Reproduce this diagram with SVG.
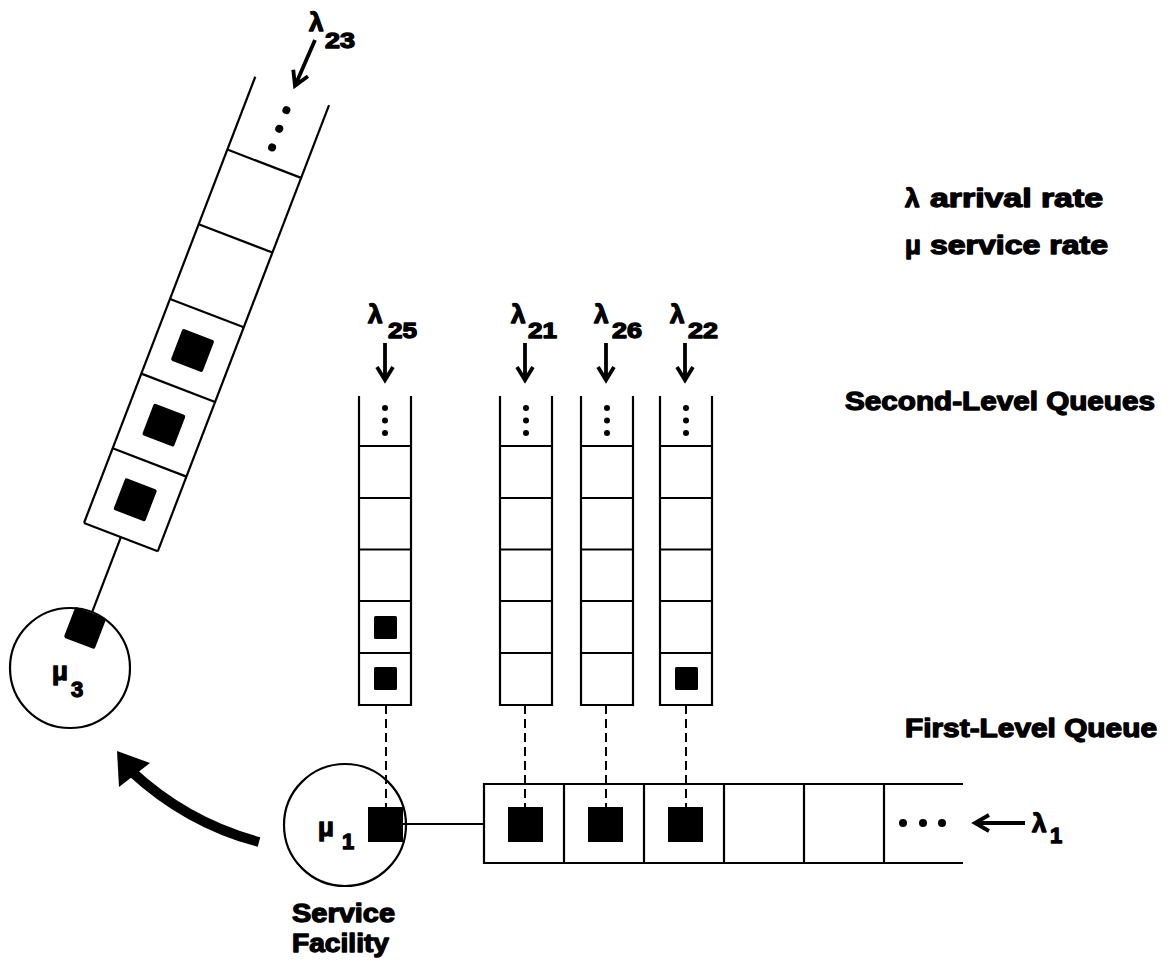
<svg xmlns="http://www.w3.org/2000/svg" xmlns:xlink="http://www.w3.org/1999/xlink" width="1169" height="965" viewBox="0 0 1169 965">
  <style>
    .ln { fill: none; stroke: #000; stroke-width: 2.2; }
    .cell { fill: #fff; stroke: #000; stroke-width: 2.2; }
    .job { fill: #000; stroke: none; }
    .dot { fill: #000; }
    .dash { fill: none; stroke: #000; stroke-width: 2; stroke-dasharray: 9 5; }
    .arr { fill: none; stroke: #000; stroke-width: 3.8; stroke-linejoin: miter; }
    .t { font-family: "Liberation Sans", Arial, sans-serif; font-weight: bold; fill: #000; stroke: #000; stroke-width: 1.3; stroke-linejoin: round; }
    .big { font-size: 26px; }
    .sub { font-size: 22px; }
  </style>
  <defs>
    <g id="arrow-down">
      <path class="arr" d="M0,0 V36 M-8,24 L0,37 L8,24"/>
    </g>
    <g id="arrow-long">
      <path class="arr" d="M0,0 V49 M-8,36 L0,50 L8,36"/>
    </g>
  </defs>

  <rect width="1169" height="965" fill="#fff"/>

  <!-- connectors -->
  <g id="connectors">
    <line class="dash" x1="386" y1="705" x2="386" y2="807"/>
    <line class="dash" x1="525" y1="705" x2="525" y2="807"/>
    <line class="dash" x1="606" y1="705" x2="606" y2="807"/>
    <line class="dash" x1="686" y1="705" x2="686" y2="807"/>
    <line class="ln" x1="403" y1="824" x2="484" y2="824"/>
    <!-- transfer from service facility 1 to facility 3 -->
    <path d="M259,842 Q187,823 131,771" fill="none" stroke="#000" stroke-width="10"/>
    <polygon points="117,751 150,763 119,787" fill="#000"/>
  </g>

  <!-- tilted second-level queue feeding facility 3 -->
  <g id="queue-23" transform="translate(84,523) rotate(21)">
    <line class="ln" x1="0" y1="0" x2="0" y2="-478"/>
    <line class="ln" x1="79" y1="0" x2="79" y2="-478"/>
    <line class="ln" x1="0" y1="0" x2="79" y2="0"/>
    <line class="ln" x1="0" y1="-80" x2="79" y2="-80"/>
    <line class="ln" x1="0" y1="-160" x2="79" y2="-160"/>
    <line class="ln" x1="0" y1="-240" x2="79" y2="-240"/>
    <line class="ln" x1="0" y1="-320" x2="79" y2="-320"/>
    <line class="ln" x1="0" y1="-400" x2="79" y2="-400"/>
    <rect class="job" x="22.5" y="-57" width="34" height="34" rx="2"/>
    <rect class="job" x="22.5" y="-137" width="34" height="34" rx="2"/>
    <rect class="job" x="22.5" y="-217" width="34" height="34" rx="2"/>
    <circle class="dot" cx="41" cy="-418" r="4"/>
    <circle class="dot" cx="41" cy="-438" r="4"/>
    <circle class="dot" cx="41" cy="-458" r="4"/>
    <line class="ln" x1="39.5" y1="0" x2="39.5" y2="80"/>
  </g>

  <g id="lambda-23">
    <use xlink:href="#arrow-long" transform="translate(315,40) rotate(23.6)"/>
    <text class="t big" x="309" y="31">λ</text>
    <text class="t sub" x="325" y="48" textLength="30" lengthAdjust="spacingAndGlyphs">23</text>
  </g>

  <!-- service facility 3 -->
  <g id="facility-3">
    <circle class="cell" cx="70" cy="668" r="60"/>
    <rect class="job" x="-16.5" y="-16.5" width="33" height="33" rx="2" transform="translate(85,628) rotate(21)"/>
    <text class="t big" x="52" y="680">μ</text>
    <text class="t sub" x="71" y="697">3</text>
  </g>

  <!-- second-level queues -->
  <g id="queue-25">
    <use xlink:href="#arrow-down" x="385" y="343"/>
    <text class="t big" x="368" y="323">λ</text>
    <text class="t sub" x="388" y="338" textLength="29" lengthAdjust="spacingAndGlyphs">25</text>
    <path class="ln" d="M359,396 V705 H411 V396"/>
    <path class="ln" d="M359,446 H411 M359,498 H411 M359,549.5 H411 M359,601 H411 M359,653 H411"/>
    <circle class="dot" cx="385" cy="408" r="3"/>
    <circle class="dot" cx="385" cy="420.5" r="3"/>
    <circle class="dot" cx="385" cy="433" r="3"/>
    <rect class="job" x="374" y="616" width="23" height="23" rx="1.5"/>
    <rect class="job" x="374" y="667" width="23" height="23" rx="1.5"/>
  </g>

  <g id="queue-21">
    <use xlink:href="#arrow-down" x="525" y="343"/>
    <text class="t big" x="511" y="323">λ</text>
    <text class="t sub" x="528" y="338" textLength="29" lengthAdjust="spacingAndGlyphs">21</text>
    <path class="ln" d="M500,396 V705 H552 V396"/>
    <path class="ln" d="M500,446 H552 M500,498 H552 M500,549.5 H552 M500,601 H552 M500,653 H552"/>
    <circle class="dot" cx="526" cy="408" r="3"/>
    <circle class="dot" cx="526" cy="420.5" r="3"/>
    <circle class="dot" cx="526" cy="433" r="3"/>
  </g>

  <g id="queue-26">
    <use xlink:href="#arrow-down" x="606" y="343"/>
    <text class="t big" x="594" y="323">λ</text>
    <text class="t sub" x="612" y="338" textLength="30" lengthAdjust="spacingAndGlyphs">26</text>
    <path class="ln" d="M581,396 V705 H633 V396"/>
    <path class="ln" d="M581,446 H633 M581,498 H633 M581,549.5 H633 M581,601 H633 M581,653 H633"/>
    <circle class="dot" cx="607" cy="408" r="3"/>
    <circle class="dot" cx="607" cy="420.5" r="3"/>
    <circle class="dot" cx="607" cy="433" r="3"/>
  </g>

  <g id="queue-22">
    <use xlink:href="#arrow-down" x="685" y="343"/>
    <text class="t big" x="670" y="323">λ</text>
    <text class="t sub" x="688" y="338" textLength="30" lengthAdjust="spacingAndGlyphs">22</text>
    <path class="ln" d="M660,396 V705 H712 V396"/>
    <path class="ln" d="M660,446 H712 M660,498 H712 M660,549.5 H712 M660,601 H712 M660,653 H712"/>
    <circle class="dot" cx="686" cy="408" r="3"/>
    <circle class="dot" cx="686" cy="420.5" r="3"/>
    <circle class="dot" cx="686" cy="433" r="3"/>
    <rect class="job" x="675" y="667" width="23" height="23" rx="1.5"/>
  </g>

  <!-- service facility 1 -->
  <g id="facility-1">
    <circle class="ln" cx="345" cy="825" r="61"/>
    <rect class="job" x="368" y="807" width="35" height="35"/>
    <text class="t big" x="318" y="836">μ</text>
    <text class="t sub" x="342" y="849">1</text>
    <text class="t big" x="292" y="922" textLength="103" lengthAdjust="spacingAndGlyphs">Service</text>
    <text class="t big" x="292" y="952" textLength="97" lengthAdjust="spacingAndGlyphs">Facility</text>
  </g>

  <!-- first-level queue -->
  <g id="queue-1">
    <path class="ln" d="M963,784 H484 V863 H963"/>
    <path class="ln" d="M564,784 V863 M644,784 V863 M724,784 V863 M804,784 V863 M884,784 V863"/>
    <rect class="job" x="508" y="807" width="35" height="35"/>
    <rect class="job" x="588" y="807" width="35" height="35"/>
    <rect class="job" x="668" y="807" width="35" height="35"/>
    <circle class="dot" cx="903" cy="823" r="4"/>
    <circle class="dot" cx="923" cy="823" r="4"/>
    <circle class="dot" cx="942" cy="823" r="4"/>
    <use xlink:href="#arrow-long" transform="translate(1025,823) rotate(90)"/>
    <text class="t big" x="1032" y="832">λ</text>
    <text class="t sub" x="1050" y="843">1</text>
  </g>

  <!-- legend and titles -->
  <g id="legend">
    <text class="t big" x="905" y="207">λ</text>
    <text class="t big" x="930" y="207" textLength="173" lengthAdjust="spacingAndGlyphs">arrival rate</text>
    <text class="t big" x="905" y="254">μ</text>
    <text class="t big" x="930" y="254" textLength="178" lengthAdjust="spacingAndGlyphs">service rate</text>
  </g>
  <g id="titles">
    <text class="t big" x="845" y="410" textLength="310" lengthAdjust="spacingAndGlyphs">Second-Level Queues</text>
    <text class="t big" x="905" y="737" textLength="252" lengthAdjust="spacingAndGlyphs">First-Level Queue</text>
  </g>
</svg>
